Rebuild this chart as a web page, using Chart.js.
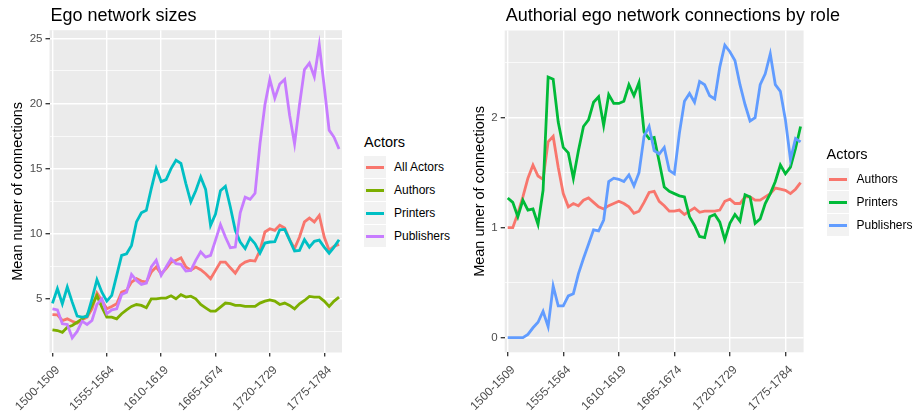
<!DOCTYPE html>
<html>
<head>
<meta charset="utf-8">
<script src="https://cdn.jsdelivr.net/npm/chart.js@4.4.1/dist/chart.umd.min.js"></script>
<style>
  body { margin: 0; background: #fff; }
  #wrap { position: relative; width: 913px; height: 411px; font-family: "Liberation Sans", Arial, sans-serif; color: #000; }
  .panel { position: absolute; top: 0; height: 411px; }
  .legend { position: absolute; }
  .lg-title { font-size: 14.5px; height: 23.5px; line-height: 20px; }
  .lg-row { display: flex; align-items: center; height: 23px; font-size: 12px; }
  .lg-key { position: relative; width: 22px; height: 22px; background: #F2F2F2; margin-right: 8px; }
  .lg-key i { position: absolute; left: 2px; right: 2px; top: 9.5px; height: 3px; }
</style>
</head>
<body>
<div id="wrap">
  <div class="panel" style="left:0;width:350px"><canvas id="sizeChart"></canvas></div>
  <div class="panel" style="left:455px;width:458px"><canvas id="roleChart"></canvas></div>
  <div class="legend" id="sizeLegend" style="left:364px;top:132px"></div>
  <div class="legend" id="roleLegend" style="left:826.5px;top:144px"></div>
</div>
<script>
// 10-year windows, moving 5 years at a time
const periods = [
  "1500-1509", "1505-1514", "1510-1519", "1515-1524", "1520-1529", "1525-1534", "1530-1539", "1535-1544",
  "1540-1549", "1545-1554", "1550-1559", "1555-1564", "1560-1569", "1565-1574", "1570-1579", "1575-1584",
  "1580-1589", "1585-1594", "1590-1599", "1595-1604", "1600-1609", "1605-1614", "1610-1619", "1615-1624",
  "1620-1629", "1625-1634", "1630-1639", "1635-1644", "1640-1649", "1645-1654", "1650-1659", "1655-1664",
  "1660-1669", "1665-1674", "1670-1679", "1675-1684", "1680-1689", "1685-1694", "1690-1699", "1695-1704",
  "1700-1709", "1705-1714", "1710-1719", "1715-1724", "1720-1729", "1725-1734", "1730-1739", "1735-1744",
  "1740-1749", "1745-1754", "1750-1759", "1755-1764", "1760-1769", "1765-1774", "1770-1779", "1775-1784",
  "1780-1789", "1785-1794", "1790-1799"
];
const periodTicks = ["1500-1509", "1555-1564", "1610-1619", "1665-1674", "1720-1729", "1775-1784"];

// left panel: ego network sizes
const allActors = [
  3.79, 3.77, 3.33, 3.46, 3.28, 3.13, 3.38, 3.59, 4.23, 5.44, 4.87, 4.23, 4.41, 4.62, 5.51, 5.64,
  6.28, 6.54, 6.36, 6.28, 7.05, 7.44, 6.92, 7.31, 7.82, 7.95, 8.15, 7.44, 7.2, 7.44, 7.23, 6.92,
  6.54, 7.18, 7.82, 7.82, 7.38, 6.97, 7.56, 7.82, 7.95, 7.9, 8.72, 10.13, 10.38, 10.26, 10.64, 10.44,
  9.54, 8.85, 9.74, 10.9, 11.2, 10.9, 11.4, 9.74, 8.72, 9.03, 9.18
];
const authors = [
  2.62, 2.56, 2.42, 2.82, 2.95, 3.2, 3.46, 3.72, 4.49, 5.24, 4.36, 3.59, 3.59, 3.46, 3.85, 4.15,
  4.41, 4.56, 4.49, 4.31, 5.0, 5.0, 5.05, 5.05, 5.23, 5.0, 5.31, 5.13, 5.2, 5.0, 4.56, 4.3,
  4.05, 4.05, 4.36, 4.67, 4.62, 4.49, 4.49, 4.41, 4.41, 4.41, 4.67, 4.82, 4.92, 4.82, 4.56, 4.67,
  4.49, 4.23, 4.62, 4.87, 5.18, 5.13, 5.13, 4.82, 4.41, 4.82, 5.13
];
const printers = [
  4.65, 5.77, 4.62, 5.9, 4.74, 3.67, 3.6, 3.65, 5.0, 6.46, 5.5, 4.82, 5.26, 6.8, 8.33, 8.46,
  9.1, 10.9, 11.6, 11.8, 13.46, 15.0, 14.0, 14.15, 15.0, 15.64, 15.4, 13.85, 12.44, 13.3, 14.36, 13.4,
  10.64, 11.5, 13.3, 13.64, 12.05, 10.26, 9.36, 8.85, 9.67, 9.23, 8.5, 9.28, 9.36, 9.38, 10.3, 10.33,
  9.5, 8.67, 8.72, 9.54, 8.97, 9.41, 9.5, 8.97, 8.5, 8.97, 9.54
];
const publishers = [
  4.23, 4.15, 3.08, 3.03, 2.0, 2.49, 3.28, 3.03, 3.33, 4.56, 5.0, 3.85, 4.15, 4.23, 5.33, 5.51,
  6.87, 6.41, 6.1, 6.2, 7.44, 7.95, 6.79, 7.44, 8.08, 7.69, 7.64, 7.13, 7.18, 7.95, 8.6, 8.2,
  8.33, 9.5, 10.7, 9.74, 8.92, 8.97, 11.6, 12.8, 12.64, 13.1, 16.9, 19.9, 21.85, 20.4, 21.5, 21.85,
  19.1, 16.9, 19.9, 22.6, 23.1, 22.05, 24.5, 21.3, 17.95, 17.4, 16.5
];
const sizeTicks = [5, 10, 15, 20, 25];

// right panel: authorial connections by role
const roleAuthors = [
  1.0, 1.0, 1.13, 1.28, 1.45, 1.57, 1.47, 1.44, 1.78, 1.83, 1.55, 1.31, 1.19, 1.22, 1.2, 1.25,
  1.27, 1.23, 1.19, 1.17, 1.2, 1.22, 1.24, 1.22, 1.19, 1.13, 1.15, 1.23, 1.32, 1.33, 1.24, 1.2,
  1.15, 1.15, 1.16, 1.12, 1.15, 1.18, 1.14, 1.15, 1.15, 1.15, 1.16, 1.24, 1.26, 1.22, 1.22, 1.28,
  1.28, 1.25, 1.25, 1.28, 1.31, 1.36, 1.35, 1.34, 1.31, 1.35, 1.41
];
const rolePrinters = [
  1.27, 1.23, 1.1, 1.25, 1.16, 1.17, 1.03, 1.34, 2.37, 2.35, 1.96, 1.73, 1.68, 1.45, 1.7, 1.92,
  1.98, 2.14, 2.19, 1.93, 2.21, 2.13, 2.13, 2.15, 2.3, 2.2, 2.32, 1.87, 1.81, 1.82, 1.6, 1.37,
  1.33, 1.31, 1.29, 1.28, 1.1, 1.02, 0.92, 0.91, 1.1, 1.12, 1.05, 0.89, 1.04, 1.12, 1.06, 1.3,
  1.28, 1.04, 1.08, 1.22, 1.31, 1.42, 1.57, 1.49, 1.55, 1.72, 1.92
];
const rolePublishers = [
  0, 0, 0, 0, 0.03, 0.09, 0.14, 0.24, 0.1, 0.47, 0.29, 0.29, 0.38, 0.4, 0.58, 0.72,
  0.85, 0.98, 0.97, 1.07, 1.42, 1.45, 1.44, 1.42, 1.48, 1.38, 1.5, 1.83, 1.92, 1.7, 1.67, 1.73,
  1.52, 1.49, 1.86, 2.15, 2.22, 2.14, 2.33, 2.3, 2.2, 2.17, 2.46, 2.66, 2.6, 2.52, 2.3, 2.12,
  1.97, 2.0, 2.3, 2.4, 2.58, 2.3, 2.24, 1.98, 1.62, 1.81, 1.78
];
const roleTicks = [0, 1, 2];

const COLORS = {
  red: "#F8766D", olive: "#7CAE00", teal: "#00BFC4", violet: "#C77CFF",
  green: "#00BA38", blue: "#619CFF",
  panel: "#EBEBEB", grid: "#FFFFFF", tick: "#333333", tickText: "#4D4D4D"
};

Chart.defaults.font.family = "'Liberation Sans', Arial, sans-serif";
Chart.defaults.color = COLORS.tickText;

// ggplot-like grey panel and left aligned title over it
const panelPlugin = {
  id: "panel",
  beforeDraw(chart) {
    const { ctx, chartArea: a } = chart;
    ctx.save();
    ctx.fillStyle = COLORS.panel;
    ctx.fillRect(a.left, a.top, a.right - a.left, a.bottom - a.top);
    ctx.restore();
  },
  afterDraw(chart, args, opts) {
    const { ctx, chartArea: a } = chart;
    ctx.save();
    ctx.fillStyle = "#000";
    ctx.font = "18px 'Liberation Sans', Arial, sans-serif";
    ctx.textBaseline = "alphabetic";
    ctx.fillText(opts.text, a.left + 1, 20.5);
    ctx.restore();
  }
};

function points(values) {
  return values.map((v, i) => ({ x: i, y: v }));
}

function expandRange(series) {
  const all = series.flat();
  const lo = Math.min(...all), hi = Math.max(...all);
  const pad = (hi - lo) * 0.05;
  return { min: lo - pad, max: hi + pad };
}

function gridTicks(major, min, max) {
  const step = major[1] - major[0];
  const ticks = major.map((v) => ({ value: v }));
  for (let v = major[0] - step / 2; v <= max; v += step) {
    if (v >= min) ticks.push({ value: v });
  }
  return ticks.sort((a, b) => a.value - b.value);
}

function makeChart(id, cfg) {
  const range = expandRange(cfg.series.map((s) => s.data));
  const isMajor = (c) => c.tick && cfg.yTicks.includes(c.tick.value);
  return new Chart(document.getElementById(id), {
    type: "line",
    data: {
      datasets: cfg.series.map((s, i) => ({
        label: s.label,
        data: points(s.data),
        borderColor: s.color,
        backgroundColor: s.color,
        borderWidth: 2.8,
        pointRadius: 0,
        tension: 0,
        order: cfg.series.length - i
      }))
    },
    options: {
      responsive: true,
      maintainAspectRatio: false,
      animation: false,
      layout: { padding: cfg.padding },
      plugins: {
        legend: { display: false },
        tooltip: { enabled: false },
        panel: { text: cfg.title }
      },
      scales: {
        x: {
          type: "linear",
          min: -0.6,
          max: periods.length - 0.4,
          afterBuildTicks: (scale) => {
            scale.ticks = periodTicks.map((p) => ({ value: periods.indexOf(p) }));
          },
          afterFit: (scale) => { scale.height = cfg.xHeight; },
          border: { display: false },
          grid: { color: COLORS.grid, lineWidth: 1.4, tickColor: COLORS.tick, tickWidth: 1.3, tickLength: 4 },
          ticks: {
            autoSkip: false,
            minRotation: 45,
            maxRotation: 45,
            padding: 6.5,
            labelOffset: 5.5,
            font: { size: 12 },
            color: COLORS.tickText,
            callback: (v) => periods[v]
          }
        },
        y: {
          min: range.min,
          max: range.max,
          afterBuildTicks: (scale) => {
            scale.ticks = gridTicks(cfg.yTicks, range.min, range.max);
          },
          afterFit: (scale) => { scale.width = cfg.yWidth; },
          border: { display: false },
          title: {
            display: true,
            text: cfg.yTitle,
            color: "#000",
            font: { size: 14.5 },
            padding: { top: cfg.yTitlePad, bottom: 0 }
          },
          grid: {
            color: COLORS.grid,
            lineWidth: (c) => (isMajor(c) ? 1.4 : 0.7),
            tickColor: (c) => (isMajor(c) ? COLORS.tick : "rgba(0,0,0,0)"),
            tickWidth: 1.3,
            tickLength: 4
          },
          ticks: {
            autoSkip: false,
            padding: 3,
            font: { size: 11.5 },
            color: COLORS.tickText,
            callback: (v) => (cfg.yTicks.includes(v) ? String(v) : "")
          }
        }
      }
    },
    plugins: [panelPlugin]
  });
}

function renderLegend(chart, id) {
  const box = document.getElementById(id);
  box.innerHTML = '<div class="lg-title">Actors</div>' + chart.data.datasets
    .map((ds) => `<div class="lg-row"><span class="lg-key"><i style="background:${ds.borderColor}"></i></span>${ds.label}</div>`)
    .join("");
}

const sizeChart = makeChart("sizeChart", {
  title: "Ego network sizes",
  yTitle: "Mean numer of connections",
  yTicks: sizeTicks,
  yWidth: 49.5,
  yTitlePad: 9.6,
  xHeight: 58.5,
  padding: { top: 30.2, right: 8, bottom: 0, left: 0 },
  series: [
    { label: "All Actors", data: allActors, color: COLORS.red },
    { label: "Authors", data: authors, color: COLORS.olive },
    { label: "Printers", data: printers, color: COLORS.teal },
    { label: "Publishers", data: publishers, color: COLORS.violet }
  ]
});

const roleChart = makeChart("roleChart", {
  title: "Authorial ego network connections by role",
  yTitle: "Mean umer of connections",
  yTicks: roleTicks,
  yWidth: 49.7,
  yTitlePad: 16.3,
  xHeight: 58.7,
  padding: { top: 30.5, right: 109.4, bottom: 0, left: 0 },
  series: [
    { label: "Authors", data: roleAuthors, color: COLORS.red },
    { label: "Printers", data: rolePrinters, color: COLORS.green },
    { label: "Publishers", data: rolePublishers, color: COLORS.blue }
  ]
});

renderLegend(sizeChart, "sizeLegend");
renderLegend(roleChart, "roleLegend");
</script>
</body>
</html>
